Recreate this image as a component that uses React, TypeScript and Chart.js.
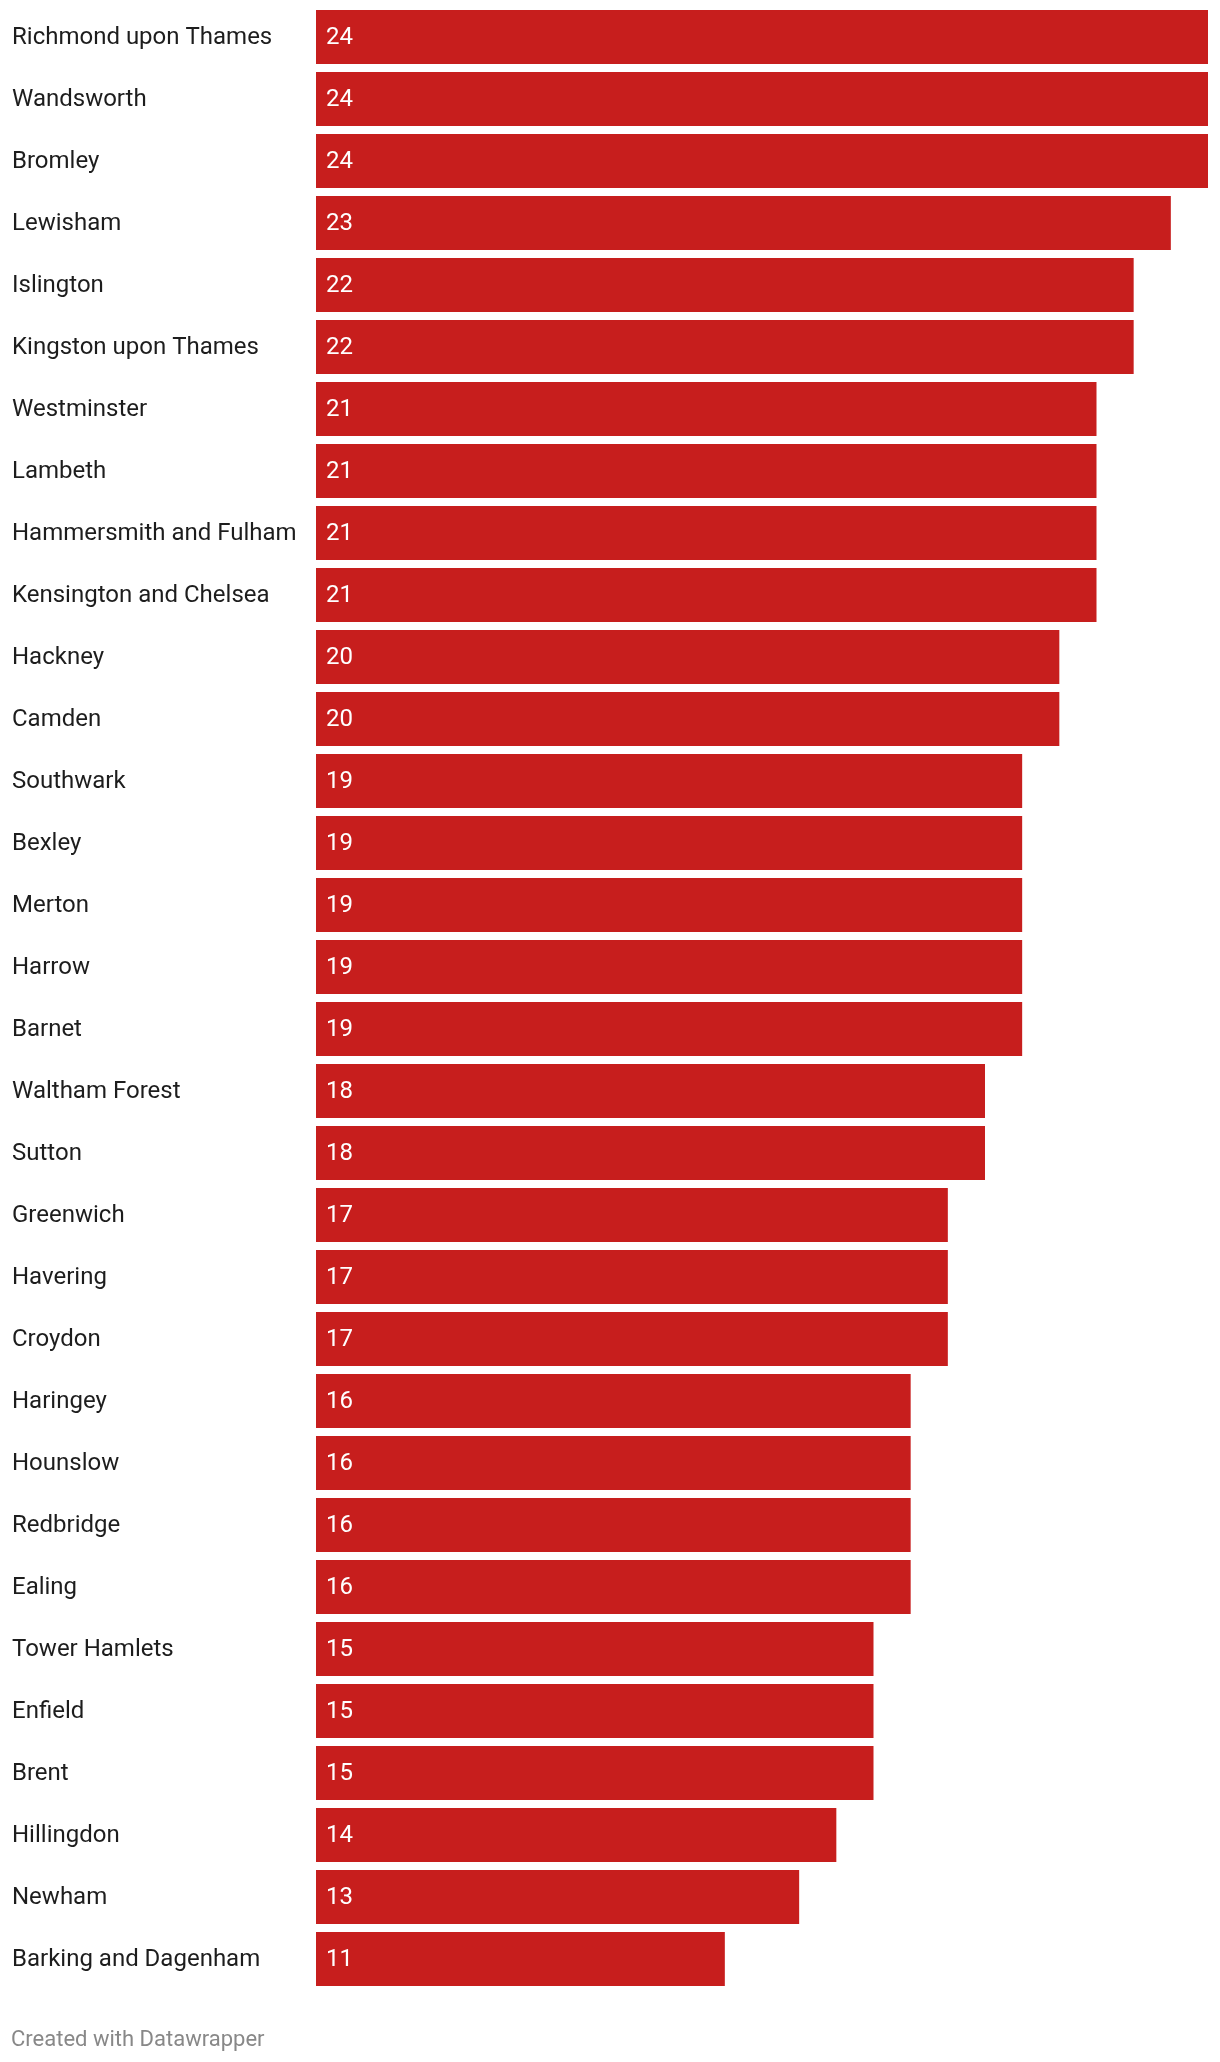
import React, { useEffect, useRef } from "react";
import { Chart, registerables } from "chart.js";

Chart.register(...registerables);

const boroughs: string[] = [
  "Richmond upon Thames",
  "Wandsworth",
  "Bromley",
  "Lewisham",
  "Islington",
  "Kingston upon Thames",
  "Westminster",
  "Lambeth",
  "Hammersmith and Fulham",
  "Kensington and Chelsea",
  "Hackney",
  "Camden",
  "Southwark",
  "Bexley",
  "Merton",
  "Harrow",
  "Barnet",
  "Waltham Forest",
  "Sutton",
  "Greenwich",
  "Havering",
  "Croydon",
  "Haringey",
  "Hounslow",
  "Redbridge",
  "Ealing",
  "Tower Hamlets",
  "Enfield",
  "Brent",
  "Hillingdon",
  "Newham",
  "Barking and Dagenham",
];

const values: number[] = [
  24, 24, 24, 23, 22, 22, 21, 21, 21, 21, 20, 20, 19, 19, 19, 19, 19, 18, 18,
  17, 17, 17, 16, 16, 16, 16, 15, 15, 15, 14, 13, 11,
];

const footerText = "Created with Datawrapper";

const BAR_COLOR = "#c71e1d";
const LABEL_COLOR = "#1d1d1d";
const FONT = "Roboto, 'Noto Sans', sans-serif";

const labelsPlugin = {
  id: "dwLabels",
  afterDatasetsDraw(chart: any) {
    const ctx = chart.ctx;
    const meta = chart.getDatasetMeta(0);
    ctx.save();
    ctx.textBaseline = "middle";
    ctx.textAlign = "left";
    meta.data.forEach((bar: any, i: number) => {
      const y = bar.y + 1;
      ctx.font = `400 24px ${FONT}`;
      ctx.fillStyle = LABEL_COLOR;
      ctx.fillText(boroughs[i], 12, y);
      ctx.fillStyle = "#ffffff";
      ctx.fillText(String(values[i]), bar.base + 10, y);
    });
    ctx.font = `400 22px ${FONT}`;
    ctx.fillStyle = "#888888";
    ctx.fillText(footerText, 11, 2040);
    ctx.restore();
  },
};

export default function App() {
  const canvasRef = useRef<HTMLCanvasElement | null>(null);

  useEffect(() => {
    document.body.style.margin = "0";
    const canvas = canvasRef.current;
    if (!canvas) return;
    const chart = new Chart(canvas, {
      type: "bar",
      data: {
        labels: boroughs,
        datasets: [
          {
            data: values,
            backgroundColor: BAR_COLOR,
            borderWidth: 0,
            barPercentage: 54 / 62,
            categoryPercentage: 1,
          },
        ],
      },
      options: {
        indexAxis: "y",
        animation: false,
        responsive: false,
        maintainAspectRatio: false,
        devicePixelRatio: 1,
        layout: {
          padding: { left: 316, right: 12, top: 6, bottom: 72 },
        },
        plugins: {
          legend: { display: false },
          tooltip: { enabled: false },
        },
        scales: {
          x: { display: false, min: 0, max: 24 },
          y: { display: false },
        },
      },
      plugins: [labelsPlugin],
    });
    return () => chart.destroy();
  }, []);

  return (
    <div style={{ position: "absolute", left: 0, top: 0, width: 1220, height: 2062, background: "#ffffff" }}>
      <canvas ref={canvasRef} width={1220} height={2062} style={{ width: 1220, height: 2062, display: "block" }} />
    </div>
  );
}
